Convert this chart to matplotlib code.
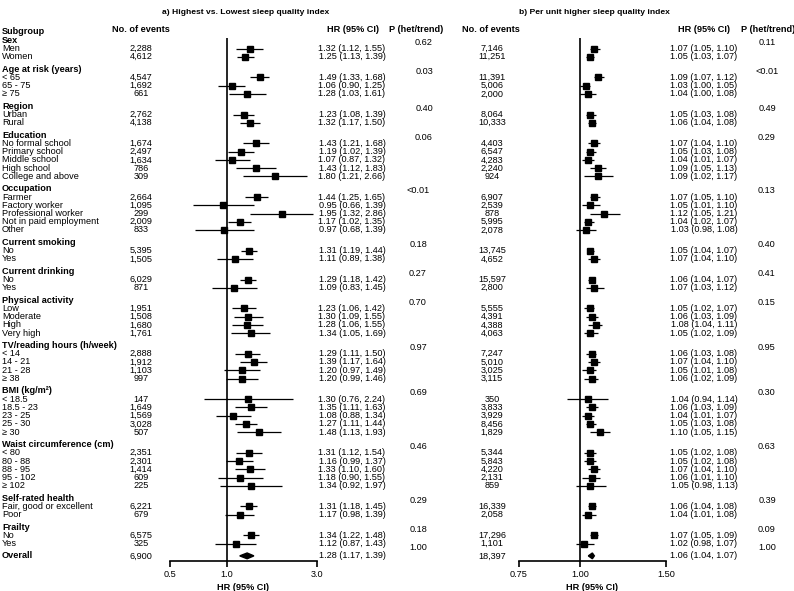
import matplotlib.pyplot as plt
from matplotlib.patches import Polygon
from matplotlib.ticker import NullLocator

plt.rcParams['font.family'] = ['Liberation Sans', 'DejaVu Sans']

groups = ["Sex", "Age at risk (years)", "Region", "Education", "Occupation",
          "Current smoking", "Current drinking", "Physical activity",
          "TV/reading hours (h/week)", "BMI (kg/m²)", "Waist circumference (cm)",
          "Self-rated health", "Frailty"]
subgroups = [
    ["Men", "Women"],
    ["< 65", "65 - 75", "≥ 75"],
    ["Urban", "Rural"],
    ["No formal school", "Primary school", "Middle school", "High school", "College and above"],
    ["Farmer", "Factory worker", "Professional worker", "Not in paid employment", "Other"],
    ["No", "Yes"],
    ["No", "Yes"],
    ["Low", "Moderate", "High", "Very high"],
    ["< 14", "14 - 21", "21 - 28", "≥ 38"],
    ["< 18.5", "18.5 - 23", "23 - 25", "25 - 30", "≥ 30"],
    ["< 80", "80 - 88", "88 - 95", "95 - 102", "≥ 102"],
    ["Fair, good or excellent", "Poor"],
    ["No", "Yes"],
]

# a) highest vs lowest
events_a = [2288, 4612, 4547, 1692, 661, 2762, 4138, 1674, 2497, 1634, 786, 309,
            2664, 1095, 299, 2009, 833, 5395, 1505, 6029, 871, 1951, 1508, 1680, 1761,
            2888, 1912, 1103, 997, 147, 1649, 1569, 3028, 507, 2351, 2301, 1414, 609, 225,
            6221, 679, 6575, 325]
hr_a = [1.32, 1.25, 1.49, 1.06, 1.28, 1.23, 1.32, 1.43, 1.19, 1.07, 1.43, 1.80,
        1.44, 0.95, 1.95, 1.17, 0.97, 1.31, 1.11, 1.29, 1.09, 1.23, 1.30, 1.28, 1.34,
        1.29, 1.39, 1.20, 1.20, 1.30, 1.35, 1.08, 1.27, 1.48, 1.31, 1.16, 1.33, 1.18, 1.34,
        1.31, 1.17, 1.34, 1.12]
lo_a = [1.12, 1.13, 1.33, 0.90, 1.03, 1.08, 1.17, 1.21, 1.02, 0.87, 1.12, 1.21,
        1.25, 0.66, 1.32, 1.02, 0.68, 1.19, 0.89, 1.18, 0.83, 1.06, 1.09, 1.06, 1.05,
        1.11, 1.17, 0.97, 0.99, 0.76, 1.11, 0.88, 1.11, 1.13, 1.12, 0.99, 1.10, 0.90, 0.92,
        1.18, 0.98, 1.22, 0.87]
hi_a = [1.55, 1.39, 1.68, 1.25, 1.61, 1.39, 1.50, 1.68, 1.39, 1.32, 1.83, 2.66,
        1.65, 1.39, 2.86, 1.35, 1.39, 1.44, 1.38, 1.42, 1.45, 1.42, 1.55, 1.55, 1.69,
        1.50, 1.64, 1.49, 1.46, 2.24, 1.63, 1.34, 1.44, 1.93, 1.54, 1.37, 1.60, 1.55, 1.97,
        1.45, 1.39, 1.48, 1.43]
p_a = ["0.62", "0.03", "0.40", "0.06", "<0.01", "0.18", "0.27", "0.70", "0.97",
       "0.69", "0.46", "0.29", "0.18"]
overall_a = dict(events=6900, hr=1.28, lo=1.17, hi=1.39, p="1.00")

# b) per unit higher
events_b = [7146, 11251, 11391, 5006, 2000, 8064, 10333, 4403, 6547, 4283, 2240, 924,
            6907, 2539, 878, 5995, 2078, 13745, 4652, 15597, 2800, 5555, 4391, 4388, 4063,
            7247, 5010, 3025, 3115, 350, 3833, 3929, 8456, 1829, 5344, 5843, 4220, 2131, 859,
            16339, 2058, 17296, 1101]
hr_b = [1.07, 1.05, 1.09, 1.03, 1.04, 1.05, 1.06, 1.07, 1.05, 1.04, 1.09, 1.09,
        1.07, 1.05, 1.12, 1.04, 1.03, 1.05, 1.07, 1.06, 1.07, 1.05, 1.06, 1.08, 1.05,
        1.06, 1.07, 1.05, 1.06, 1.04, 1.06, 1.04, 1.05, 1.10, 1.05, 1.05, 1.07, 1.06, 1.05,
        1.06, 1.04, 1.07, 1.02]
lo_b = [1.05, 1.03, 1.07, 1.00, 1.00, 1.03, 1.04, 1.04, 1.03, 1.01, 1.05, 1.02,
        1.05, 1.01, 1.05, 1.02, 0.98, 1.04, 1.04, 1.04, 1.03, 1.02, 1.03, 1.04, 1.02,
        1.03, 1.04, 1.01, 1.02, 0.94, 1.03, 1.01, 1.03, 1.05, 1.02, 1.02, 1.04, 1.01, 0.98,
        1.04, 1.01, 1.05, 0.98]
hi_b = [1.10, 1.07, 1.12, 1.05, 1.08, 1.08, 1.08, 1.10, 1.08, 1.07, 1.13, 1.17,
        1.10, 1.10, 1.21, 1.07, 1.08, 1.07, 1.10, 1.07, 1.12, 1.07, 1.09, 1.11, 1.09,
        1.08, 1.10, 1.08, 1.09, 1.14, 1.09, 1.07, 1.08, 1.15, 1.08, 1.08, 1.10, 1.10, 1.13,
        1.08, 1.08, 1.09, 1.07]
p_b = ["0.11", "<0.01", "0.49", "0.29", "0.13", "0.40", "0.41", "0.15", "0.95",
       "0.30", "0.63", "0.39", "0.09"]
overall_b = dict(events=18397, hr=1.06, lo=1.04, hi=1.07, p="1.00")

# layout, in pixels of the 794x591 canvas
W, H = 794, 591
ROW0_PX = 32.0
ROW_PX = 8.25
AXIS_ROW = 64.1
FS = 6.6


def ypx(row):
    return ROW0_PX + ROW_PX * row


# row positions: group header, then its items, 1.5 rows gap between groups
hdr_rows, item_rows = [], []
r = 1
for subs in subgroups:
    hdr_rows.append(r)
    for _ in subs:
        r += 1
        item_rows.append(r)
    r += 1.5
overall_row = r

fig = plt.figure(figsize=(W / 100, H / 100), dpi=100)
tax = fig.add_axes([0, 0, 1, 1])
tax.set_xlim(0, W)
tax.set_ylim(H, 0)
tax.axis('off')


def make_panel(x0, x1, lim, ticks, ticklabels, d):
    top_row = -1
    ax = fig.add_axes([x0 / W, 1 - ypx(AXIS_ROW) / H, (x1 - x0) / W,
                       (ypx(AXIS_ROW) - ypx(top_row)) / H])
    ax.patch.set_alpha(0)
    ax.set_xscale('log')
    ax.set_xlim(*lim)
    ax.set_ylim(AXIS_ROW, top_row)
    for s in ['top', 'right', 'left']:
        ax.spines[s].set_visible(False)
    ax.spines['bottom'].set_linewidth(1.2)
    ax.set_yticks([])
    ax.set_xticks(ticks)
    ax.set_xticklabels(ticklabels, fontsize=FS)
    ax.xaxis.set_minor_locator(NullLocator())
    ax.tick_params(axis='x', direction='out', length=4, width=1.2, pad=2.5)
    ax.set_xlabel("HR (95% CI)", fontsize=FS, fontweight='bold', labelpad=3)
    ax.vlines(1, 0.75, AXIS_ROW, color='black', lw=1.2)
    ax.hlines(item_rows, d['lo'], d['hi'], color='black', lw=0.9)
    ax.plot(d['hr'], item_rows, 's', color='black', ms=5)
    o = d['overall']
    ax.add_patch(Polygon([(o['lo'], overall_row), (o['hr'], overall_row - 0.35),
                          (o['hi'], overall_row), (o['hr'], overall_row + 0.35)],
                         closed=True, color='black'))
    return ax


panel_a = dict(lo=lo_a, hi=hi_a, hr=hr_a, overall=overall_a)
panel_b = dict(lo=lo_b, hi=hi_b, hr=hr_b, overall=overall_b)
make_panel(170, 317, (0.5, 3.0), [0.5, 1.0, 3.0], ["0.5", "1.0", "3.0"], panel_a)
make_panel(519, 666, (0.75, 1.5), [0.75, 1.0, 1.5], ["0.75", "1.00", "1.50"], panel_b)

# titles
tax.text(246, 13, "a) Highest vs. Lowest sleep quality index", ha='center', va='center',
         fontsize=6.1, fontweight='bold')
tax.text(594, 13, "b) Per unit higher sleep quality index", ha='center', va='center',
         fontsize=6.1, fontweight='bold')

# column headers
tax.text(2, ypx(0), "Subgroup", ha='left', va='center', fontsize=FS, fontweight='bold')
hdr_y = ypx(-0.35)
for x, t in [(141, "No. of events"), (353, "HR (95% CI)"), (416, "P (het/trend)"),
             (491, "No. of events"), (704, "HR (95% CI)"), (768, "P (het/trend)")]:
    tax.text(x, hdr_y, t, ha='center', va='center', fontsize=FS, fontweight='bold')

# group headers and labels
k = 0
for g, (name, subs) in enumerate(zip(groups, subgroups)):
    tax.text(2, ypx(hdr_rows[g]), name, ha='left', va='center', fontsize=FS, fontweight='bold')
    # the first few P values sit a little further right in the original
    xp = 424 if g < 4 else 418
    tax.text(xp, ypx(hdr_rows[g] + 0.25), p_a[g], ha='center', va='center', fontsize=FS)
    tax.text(767, ypx(hdr_rows[g] + 0.25), p_b[g], ha='center', va='center', fontsize=FS)
    for s in subs:
        y = ypx(item_rows[k])
        tax.text(2, y, s, ha='left', va='center', fontsize=FS)
        tax.text(141, y, f"{events_a[k]:,}", ha='center', va='center', fontsize=FS)
        tax.text(352, y, f"{hr_a[k]:.2f} ({lo_a[k]:.2f}, {hi_a[k]:.2f})",
                 ha='center', va='center', fontsize=FS)
        tax.text(492, y, f"{events_b[k]:,}", ha='center', va='center', fontsize=FS)
        tax.text(704, y, f"{hr_b[k]:.2f} ({lo_b[k]:.2f}, {hi_b[k]:.2f})",
                 ha='center', va='center', fontsize=FS)
        k += 1

# overall row
y = ypx(overall_row)
tax.text(2, y, "Overall", ha='left', va='center', fontsize=FS, fontweight='bold')
for o, xe, xh, xp in [(overall_a, 141, 352, 418), (overall_b, 492, 704, 767)]:
    tax.text(xe, y, f"{o['events']:,}", ha='center', va='center', fontsize=FS)
    tax.text(xh, y, f"{o['hr']:.2f} ({o['lo']:.2f}, {o['hi']:.2f})",
             ha='center', va='center', fontsize=FS)
    tax.text(xp, ypx(overall_row - 1), o['p'], ha='center', va='center', fontsize=FS)

fig.savefig("out.png", dpi=100)
